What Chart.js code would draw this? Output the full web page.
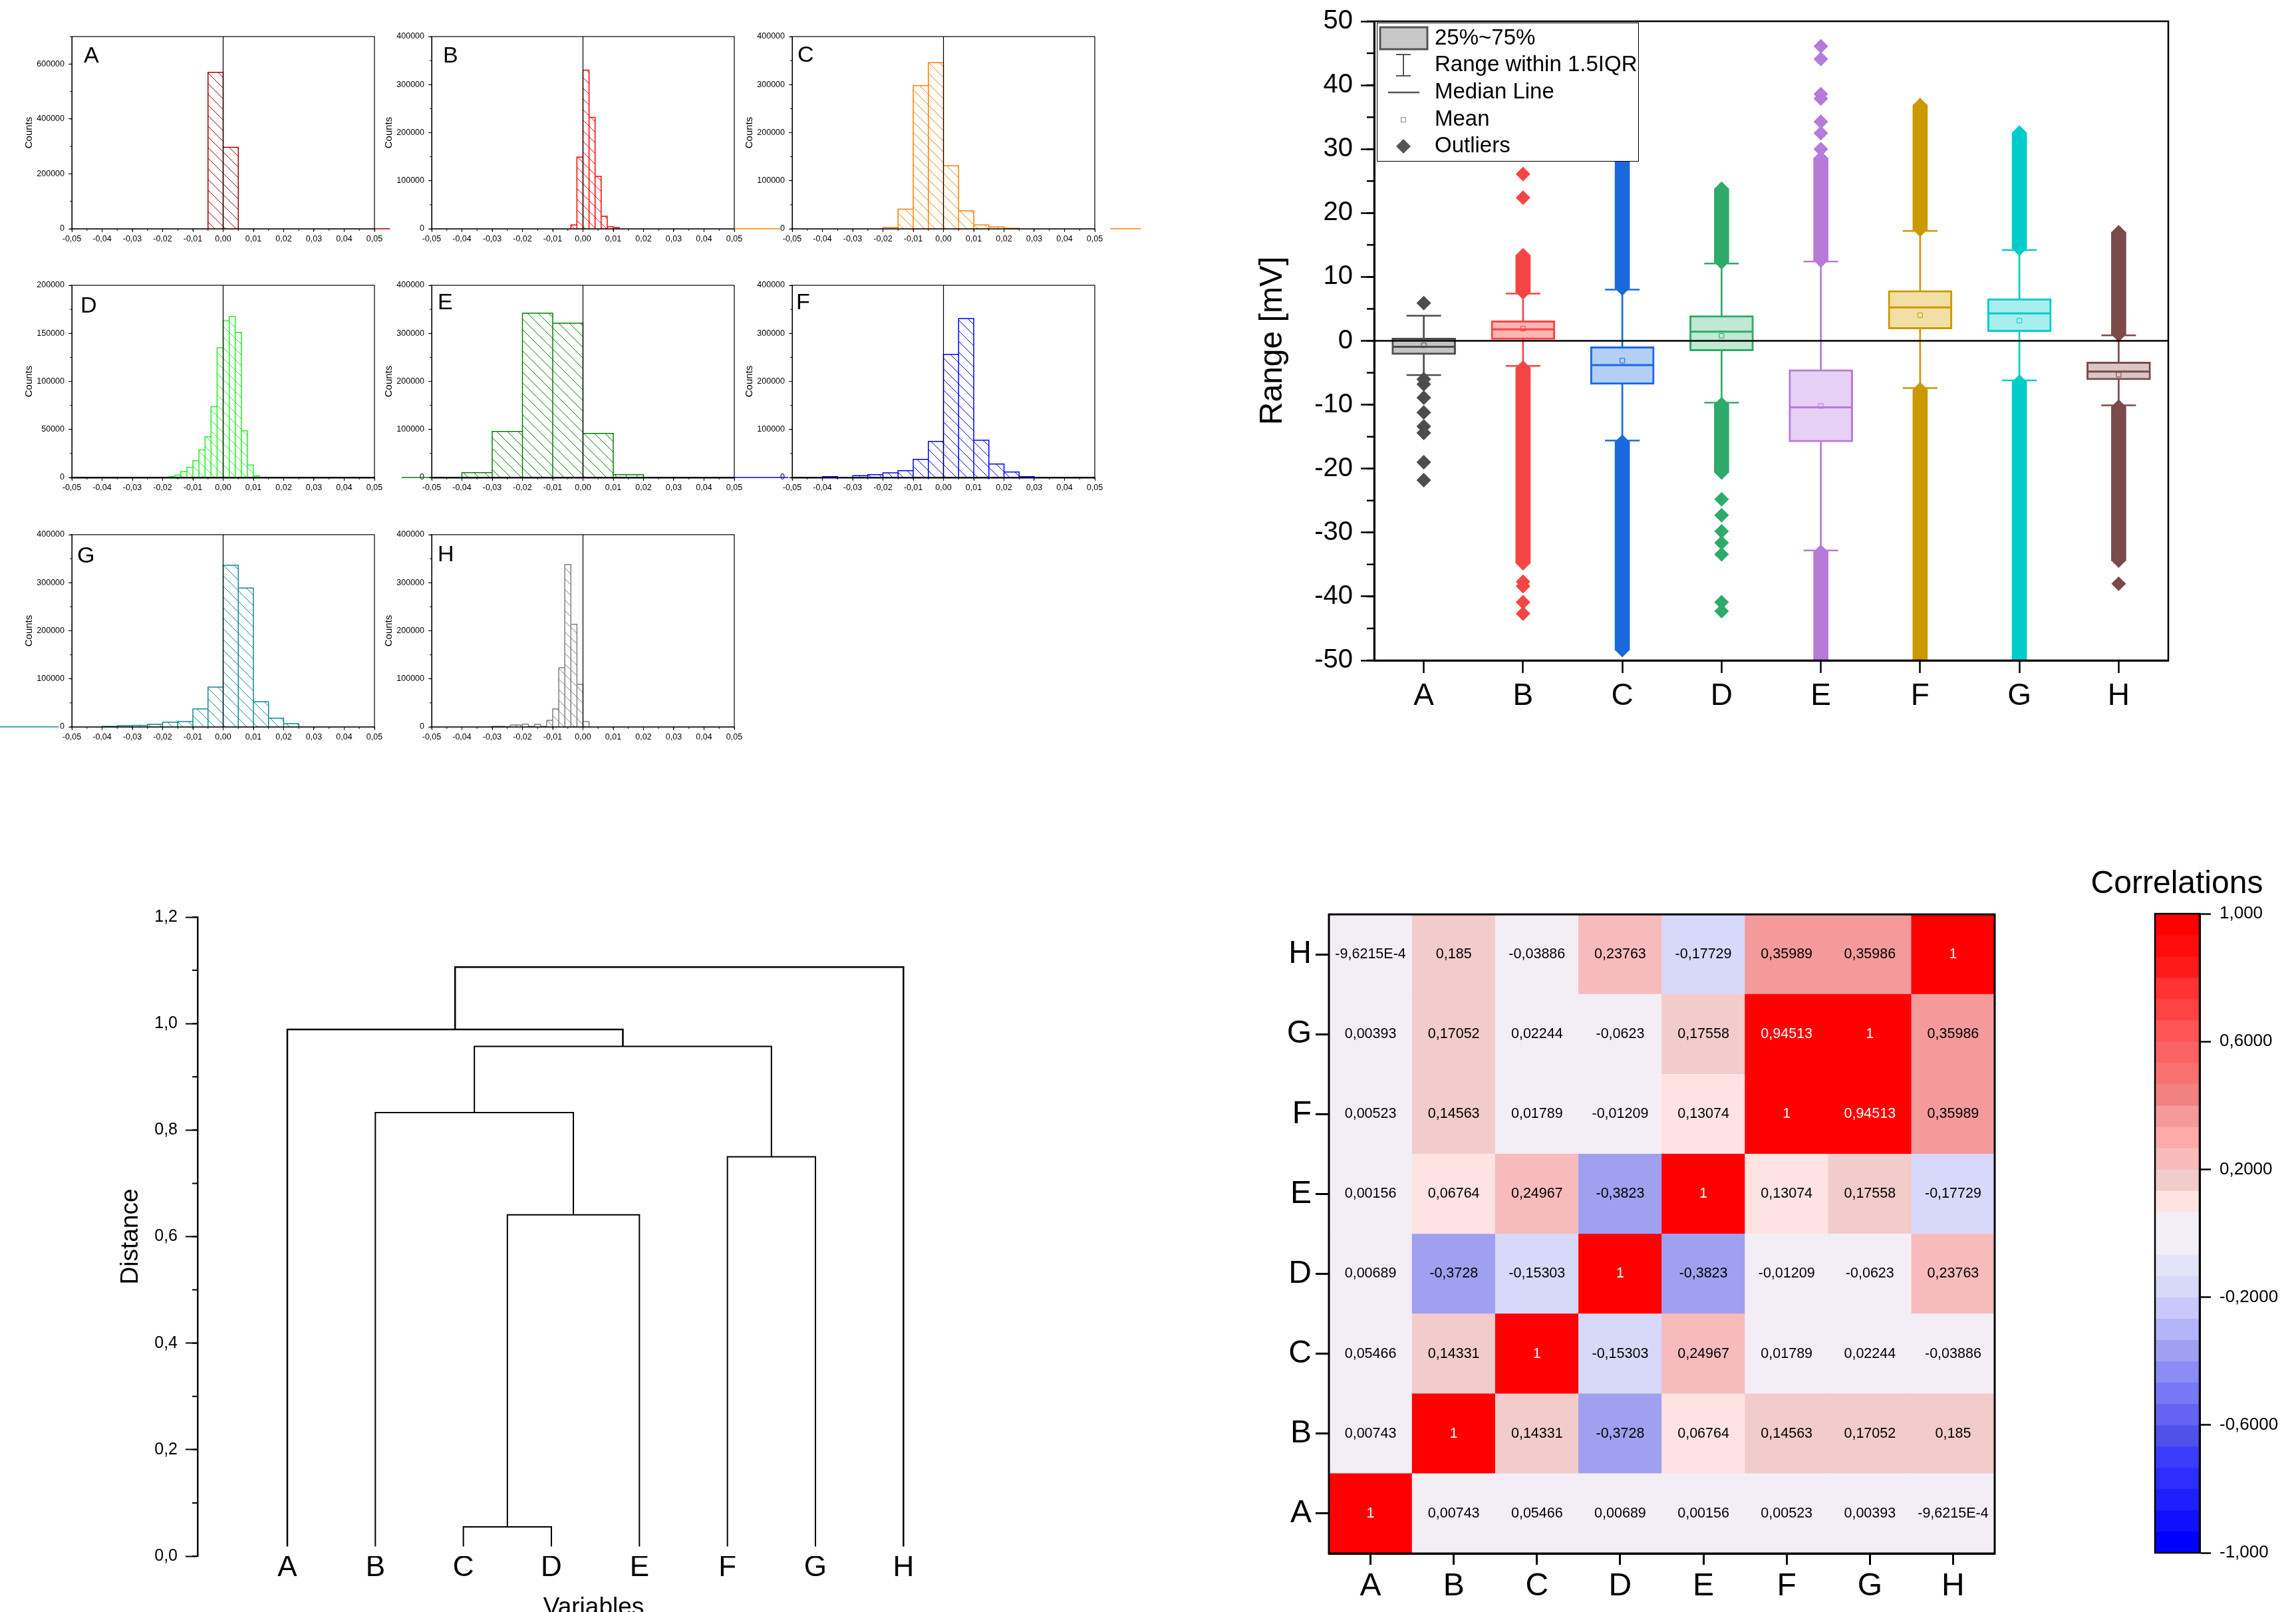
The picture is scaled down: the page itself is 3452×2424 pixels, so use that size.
<!DOCTYPE html>
<html lang="en">
<head>
<meta charset="utf-8">
<title>Signal statistics A-H</title>
<script src="https://cdn.jsdelivr.net/npm/chart.js@4.4.1/dist/chart.umd.min.js"></script>
<style>
  html, body { margin: 0; padding: 0; background: #fff; overflow: hidden; }
  body { position: relative; width: 3452px; height: 2424px; }
  canvas { position: absolute; }
</style>
</head>
<body>
<script>
// ---------------- data ----------------
const varNames = ['A', 'B', 'C', 'D', 'E', 'F', 'G', 'H'];

// histograms: [left edge of bin, counts]
const histA = [[-0.005, 570000], [0, 297000]];
const histB = [[-0.004, 8000], [-0.002, 149000], [0, 330000], [0.002, 232000], [0.004, 109000],
  [0.006, 26000], [0.008, 4000], [0.01, 2500]];
const histC = [[-0.02, 2300], [-0.015, 41000], [-0.01, 298000], [-0.005, 345600], [0, 131000],
  [0.005, 37400], [0.01, 7800], [0.015, 3700], [0.02, 900]];
const histD = [[-0.018, 900], [-0.016, 2500], [-0.014, 6000], [-0.012, 10600], [-0.01, 17500],
  [-0.008, 28800], [-0.006, 42400], [-0.004, 73700], [-0.002, 135000], [0, 163000],
  [0.002, 167500], [0.004, 151000], [0.006, 48600], [0.008, 12900], [0.01, 1800]];
const histE = [[-0.04, 10100], [-0.03, 95800], [-0.02, 341900], [-0.01, 321200], [0, 91700], [0.01, 6000]];
const histF = [[-0.04, 1800], [-0.03, 3700], [-0.025, 6000], [-0.02, 9700], [-0.015, 14300],
  [-0.01, 37800], [-0.005, 75100], [0, 256000], [0.005, 330900], [0.01, 77400], [0.015, 28100],
  [0.02, 11500], [0.025, 1800]];
const histG = [[-0.04, 900], [-0.035, 2300], [-0.03, 3200], [-0.025, 5100], [-0.02, 9700],
  [-0.015, 11000], [-0.01, 37400], [-0.005, 82700], [0, 336300], [0.005, 289100], [0.01, 52200],
  [0.015, 18000], [0.02, 6500]];
const histH = [[-0.03, 900], [-0.028, 900], [-0.024, 3700], [-0.022, 3700], [-0.02, 5500],
  [-0.018, 900], [-0.016, 5100], [-0.014, 900], [-0.012, 13400], [-0.01, 37400], [-0.008, 122900],
  [-0.006, 337600], [-0.004, 213400], [-0.002, 88700], [0, 11100]];
const histBinWidth = [0.005, 0.002, 0.005, 0.002, 0.01, 0.005, 0.005, 0.002];
// zero-count baseline pieces that run outside the frame: [from, to]
const histTails = [[[0.05, 0.0551]], [], [[-0.0691, -0.054], [0.0552, 0.0652]], [],
  [[-0.0599, -0.05]], [[-0.0691, -0.0513]], [[-0.0737, -0.0543]], []];
const histYMax = [700000, 400000, 400000, 200000, 400000, 400000, 400000, 400000];
const histYStep = [200000, 100000, 100000, 50000, 100000, 100000, 100000, 100000];
const histXTicks = [-0.05, -0.04, -0.03, -0.02, -0.01, 0, 0.01, 0.02, 0.03, 0.04, 0.05];

// box plot (mV)
const boxQ1 = [-2.15, 0.21, -6.8, -1.58, -15.8, 1.86, 1.43, -6.1];
const boxQ3 = [0.43, 3.15, -0.93, 3.94, -4.5, 7.88, 6.6, -3.3];
const boxMedian = [-0.93, 1.79, -3.8, 1.43, -10.4, 5.23, 4.3, -4.8];
const boxMean = [-0.7, 1.93, -3.1, 0.79, -10.2, 4.0, 3.15, -5.3];
const whiskerLow = [-5.37, -3.94, -15.6, -9.67, -32.8, -7.4, -6.2, -10.1];
const whiskerHigh = [3.94, 7.38, 8.0, 12.1, 12.4, 17.2, 14.2, 0.86];
// dense runs of outliers [from, to]
const outlierRunHigh = [null, [7.6, 13.4], [8.2, 33], [12.3, 23.8], [12.6, 28.6], [17.4, 36.9], [14.4, 32.6], [1.0, 17.0]];
const outlierRunLow = [null, [-34.8, -4.2], [-48.4, -15.8], [-20.6, -9.9], [-60, -33], [-60, -7.6], [-60, -6.4], [-34.4, -10.3]];
const outlierSingles = [
  [5.9, -6.0, -6.8, -8.9, -11.2, -13.4, -14.4, -19.0, -21.8],
  [22.4, 26.1, -37.7, -38.4, -40.9, -42.7],
  [],
  [-24.8, -27.3, -29.8, -31.6, -33.4, -40.9, -42.3],
  [30.0, 32.5, 34.3, 37.9, 38.6, 44.1, 46.1],
  [],
  [],
  [-38.0]
];
const boxYTicks = [-50, -40, -30, -20, -10, 0, 10, 20, 30, 40, 50];

// dendrogram: [left cluster, right cluster, distance]; clusters 0-7 are leaves, 8+ the merges in order
const dendroMerges = [[2, 3, 0.055], [8, 4, 0.641], [1, 9, 0.833], [5, 6, 0.750],
  [10, 11, 0.957], [0, 12, 0.989], [13, 7, 1.106]];
const dendroTicks = [0, 0.2, 0.4, 0.6, 0.8, 1.0, 1.2];

// correlation matrix, rows/cols A..H
const corrMatrix = [
  [1, 0.00743, 0.05466, 0.00689, 0.00156, 0.00523, 0.00393, -9.6215E-4],
  [0.00743, 1, 0.14331, -0.3728, 0.06764, 0.14563, 0.17052, 0.185],
  [0.05466, 0.14331, 1, -0.15303, 0.24967, 0.01789, 0.02244, -0.03886],
  [0.00689, -0.3728, -0.15303, 1, -0.3823, -0.01209, -0.0623, 0.23763],
  [0.00156, 0.06764, 0.24967, -0.3823, 1, 0.13074, 0.17558, -0.17729],
  [0.00523, 0.14563, 0.01789, -0.01209, 0.13074, 1, 0.94513, 0.35989],
  [0.00393, 0.17052, 0.02244, -0.0623, 0.17558, 0.94513, 1, 0.35986],
  [-9.6215E-4, 0.185, -0.03886, 0.23763, -0.17729, 0.35989, 0.35986, 1]
];
// colour levels from +1 (first) down to -1 (last)
const colorLevels = ['#ff0000', '#fe0c0c', '#ff1a1a', '#ff3333', '#ff4242', '#ff5555', '#fb6464', '#f87272',
  '#f28282', '#f49a9a', '#ffaaaa', '#f7bbbb', '#f2cbcb', '#ffe3e3', '#f3eef6', '#f3eef6', '#e4e4f8',
  '#d8d8fa', '#c8c8fa', '#b4b4f8', '#a0a0f0', '#8c8cf6', '#7878f6', '#6464f0', '#5050ea', '#3c3cfc',
  '#2d2dff', '#1e1eff', '#1010ff', '#0000ff'];
const colorbarTicks = [-1, -0.6, -0.2, 0.2, 0.6, 1];

// ---------------- helpers ----------------
const FAMILY = '"Liberation Sans", Arial, Helvetica, sans-serif';
Chart.defaults.font.family = FAMILY;
Chart.defaults.color = '#000';
Chart.defaults.animation = false;
Chart.defaults.events = [];
Chart.defaults.plugins.legend.display = false;
Chart.defaults.plugins.tooltip.enabled = false;

const comma = s => s.replace('.', ',');
const zeroPad = s => { s.paddingLeft = s.paddingRight = s.paddingTop = s.paddingBottom = 0; };
const asTicks = vals => vals.map(v => ({ value: v }));

function stepTicks(min, max, step) {
  const out = [];
  for (let k = 0; min + k * step <= max + 1e-9; k++) out.push(+(min + k * step).toFixed(6));
  return out;
}

function addCanvas(left, top, width, height) {
  const c = document.createElement('canvas');
  c.width = width; c.height = height;
  c.style.left = left + 'px'; c.style.top = top + 'px';
  c.style.width = width + 'px'; c.style.height = height + 'px';
  document.body.appendChild(c);
  return c;
}

function hatch(color) {
  const c = document.createElement('canvas');
  c.width = c.height = 16;
  const g = c.getContext('2d');
  g.strokeStyle = color;
  g.lineWidth = 1;
  g.beginPath();
  g.moveTo(-1, -1); g.lineTo(17, 17);
  g.stroke();
  return g.createPattern(c, 'repeat');
}

function fmtCorr(v) {
  if (v !== 0 && Math.abs(v) < 0.001) return comma(v.toExponential(4)).replace('e', 'E');
  return comma(String(v));
}

function corrColor(v) {
  const step = 2 / colorLevels.length;
  const k = Math.min(colorLevels.length - 1, Math.max(0, Math.floor((1 - v) / step)));
  return colorLevels[k];
}

// ---------------- plugins ----------------
const framePlugin = {
  id: 'frame',
  afterDraw(chart, args, opts) {
    if (!opts.width) return;
    const a = chart.chartArea, ctx = chart.ctx;
    ctx.save();
    ctx.strokeStyle = '#000';
    ctx.lineWidth = opts.width;
    ctx.strokeRect(a.left, a.top, a.right - a.left, a.bottom - a.top);
    ctx.restore();
  }
};

// horizontal reference line at y = 0
const zeroLinePlugin = {
  id: 'zeroLine',
  afterDatasetsDraw(chart, args, opts) {
    if (!opts.width) return;
    const a = chart.chartArea, ctx = chart.ctx;
    const y = chart.scales.y.getPixelForValue(0);
    ctx.save();
    ctx.strokeStyle = '#000';
    ctx.lineWidth = opts.width;
    ctx.beginPath(); ctx.moveTo(a.left, y); ctx.lineTo(a.right, y); ctx.stroke();
    ctx.restore();
  }
};

// short unlabeled ticks between the labeled ones
const minorTickPlugin = {
  id: 'minorTicks',
  afterDraw(chart, args, opts) {
    if (!opts.axes) return;
    const ctx = chart.ctx;
    ctx.save();
    ctx.strokeStyle = '#000';
    opts.axes.forEach(({ id, step, len, width }) => {
      const s = chart.scales[id];
      ctx.lineWidth = width;
      ctx.beginPath();
      stepTicks(s.min, s.max, step).forEach(v => {
        const p = s.getPixelForValue(v);
        if (s.isHorizontal()) { ctx.moveTo(p, s.top); ctx.lineTo(p, s.top + len); }
        else if (s.position === 'left') { ctx.moveTo(s.right - len, p); ctx.lineTo(s.right, p); }
        else { ctx.moveTo(s.left, p); ctx.lineTo(s.left + len, p); }
      });
      ctx.stroke();
    });
    ctx.restore();
  }
};

const tagPlugin = {
  id: 'tag',
  afterDraw(chart, args, opts) {
    if (!opts.text) return;
    const ctx = chart.ctx;
    ctx.save();
    ctx.font = opts.size + 'px ' + FAMILY;
    ctx.fillStyle = '#000';
    ctx.textAlign = opts.align || 'left';
    ctx.textBaseline = 'alphabetic';
    ctx.fillText(opts.text, chart.chartArea.left + opts.dx, chart.chartArea.top + opts.dy);
    ctx.restore();
  }
};

const boxLegendPlugin = {
  id: 'boxLegend',
  afterDraw(chart, args, opts) {
    if (!opts.show) return;
    const ctx = chart.ctx, a = chart.chartArea;
    const X = v => a.left + v, Y = v => a.top + v;
    ctx.save();
    ctx.fillStyle = '#fff';
    ctx.fillRect(X(4), Y(2), 393, 208);
    ctx.strokeStyle = '#000';
    ctx.lineWidth = 1;
    ctx.strokeRect(X(4) + 0.5, Y(2) + 0.5, 393, 208);
    const grey = '#555';
    // box sample
    ctx.fillStyle = '#c8c8c8';
    ctx.fillRect(X(9), Y(9), 71, 33);
    ctx.strokeStyle = grey; ctx.lineWidth = 3;
    ctx.strokeRect(X(9), Y(9), 71, 33);
    // whisker sample
    ctx.lineWidth = 2;
    ctx.beginPath();
    ctx.moveTo(X(44), Y(50)); ctx.lineTo(X(44), Y(82));
    ctx.moveTo(X(33), Y(50)); ctx.lineTo(X(55), Y(50));
    ctx.moveTo(X(33), Y(82)); ctx.lineTo(X(55), Y(82));
    ctx.stroke();
    // median sample
    ctx.lineWidth = 2.5;
    ctx.beginPath(); ctx.moveTo(X(21), Y(107)); ctx.lineTo(X(68), Y(107)); ctx.stroke();
    // mean sample
    ctx.lineWidth = 1;
    ctx.strokeStyle = '#888';
    ctx.strokeRect(X(40.5), Y(144.5), 7, 7);
    // outlier sample
    ctx.fillStyle = grey;
    ctx.beginPath();
    ctx.moveTo(X(33), Y(188)); ctx.lineTo(X(44), Y(177)); ctx.lineTo(X(55), Y(188)); ctx.lineTo(X(44), Y(199));
    ctx.closePath(); ctx.fill();
    // texts
    ctx.fillStyle = '#000';
    ctx.font = '33px ' + FAMILY;
    ctx.textBaseline = 'middle';
    const labels = ['25%~75%', 'Range within 1.5IQR', 'Median Line', 'Mean', 'Outliers'];
    const ys = [26, 66, 107, 148, 188];
    labels.forEach((t, i) => ctx.fillText(t, X(91), Y(ys[i])));
    ctx.restore();
  }
};

const cellTextPlugin = {
  id: 'cellText',
  afterDatasetsDraw(chart, args, opts) {
    if (!opts.values) return;
    const ctx = chart.ctx;
    ctx.save();
    ctx.font = opts.size + 'px ' + FAMILY;
    ctx.textAlign = 'center';
    ctx.textBaseline = 'middle';
    chart.data.datasets.forEach((ds, r) => {
      chart.getDatasetMeta(r).data.forEach((el, c) => {
        const v = opts.values[r][c];
        ctx.fillStyle = Math.abs(v) > 0.9 ? '#fff' : '#000';
        ctx.fillText(fmtCorr(v), el.x, (el.y + el.base) / 2);
      });
    });
    ctx.restore();
  }
};

Chart.register(framePlugin, zeroLinePlugin, minorTickPlugin, tagPlugin, boxLegendPlugin, cellTextPlugin);

// ---------------- histograms ----------------
const histData = [histA, histB, histC, histD, histE, histF, histG, histH];
const histColors = ['#a00000', '#ff0000', '#ff8000', '#22ee22', '#008000', '#0000ff', '#108a8a', '#808080'];
const histCols = [108, 649, 1191];
const histRows = [55, 429, 804];
const HIST_W = 455, HIST_H = 289;
const histTagPos = [[18, 39], [17, 39], [8, 38], [13, 41], [9, 36], [6, 36], [8, 42], [9, 40]];
const histBaseWidth = [1, 1, 1, 2.5, 2.5, 2.5, 1, 1];

function histPoints(bins, w) {
  const pts = [];
  bins.forEach(([x0, n]) => {
    pts.push({ x: x0, y: 0 }, { x: x0, y: n }, { x: x0 + w, y: n }, { x: x0 + w, y: 0 });
  });
  return pts;
}

histData.forEach((bins, i) => {
  const cl = histCols[i % 3], ct = histRows[Math.floor(i / 3)];
  const color = histColors[i], ymax = histYMax[i];
  const canvas = addCanvas(cl - 110, ct - 20, 110 + HIST_W + 75, 20 + HIST_H + 30);
  const datasets = [
    { data: [{ x: 0, y: 0 }, { x: 0, y: ymax }], borderColor: '#000', borderWidth: 1.2, fill: false, order: 0 },
    { data: histPoints(bins, histBinWidth[i]), borderColor: color, borderWidth: 1.5,
      backgroundColor: hatch(color), fill: 'origin', order: 1 }
  ];
  histTails[i].forEach(([a, b]) => {
    datasets.push({ data: [{ x: a, y: 0 }, { x: b, y: 0 }], borderColor: color, borderWidth: 1.5,
      fill: false, clip: false, order: 2 });
  });
  new Chart(canvas, {
    type: 'line',
    data: { datasets },
    options: {
      responsive: false,
      devicePixelRatio: 1,
      layout: { autoPadding: false, padding: { left: 30, top: 20, right: 75, bottom: 0 } },
      elements: { point: { radius: 0 }, line: { tension: 0 } },
      scales: {
        x: {
          type: 'linear', position: 'bottom', min: -0.05, max: 0.05,
          afterBuildTicks: s => { s.ticks = asTicks(histXTicks); },
          ticks: { callback: v => comma(v.toFixed(2)), font: { size: 12.5 }, padding: 3, autoSkip: false, maxRotation: 0 },
          grid: { drawOnChartArea: false, tickLength: 5, tickWidth: 1, tickColor: '#000' },
          border: { color: '#000', width: histBaseWidth[i] },
          afterFit: s => { s.height = 30; zeroPad(s); }
        },
        y: {
          type: 'linear', position: 'left', min: 0, max: ymax,
          afterBuildTicks: s => { s.ticks = asTicks(stepTicks(0, ymax, histYStep[i])); },
          ticks: { callback: v => String(v), font: { size: 12.5 }, padding: 6 },
          grid: { drawOnChartArea: false, tickLength: 5, tickWidth: 1, tickColor: '#000' },
          border: { color: '#000', width: 1 },
          title: { display: true, text: 'Counts', font: { size: 15 }, padding: { top: 7, bottom: 0 } },
          afterFit: s => { s.width = 80; zeroPad(s); }
        }
      },
      plugins: {
        frame: { width: 1.2 },
        minorTicks: { axes: [{ id: 'x', step: 0.005, len: 3, width: 1 }, { id: 'y', step: histYStep[i] / 2, len: 3, width: 1 }] },
        tag: { text: varNames[i], dx: histTagPos[i][0], dy: histTagPos[i][1], size: 34 }
      }
    }
  });
});

// ---------------- box plot ----------------
const boxLine = ['#4d4d4d', '#f54545', '#1a68dd', '#2eab6a', '#b67ad9', '#cc9900', '#00cccc', '#7b4a4a'];
const boxFill = ['#c4c4c4', '#fab5b5', '#b3cff6', '#c0e8d2', '#e7d0f5', '#f1dfa5', '#a8eeee', '#d9c6c6'];

const outPts = [], outCols = [], capPts = [], capCols = [];
varNames.forEach((c, i) => {
  const vals = outlierSingles[i].slice();
  [outlierRunHigh[i], outlierRunLow[i]].forEach(r => { if (r) vals.push(r[0], r[1]); });
  vals.forEach(v => { outPts.push({ x: c, y: v }); outCols.push(boxLine[i]); });
  capPts.push({ x: c, y: whiskerHigh[i] }, { x: c, y: whiskerLow[i] });
  capCols.push(boxLine[i], boxLine[i]);
});
const catPts = vals => vals.map((v, i) => ({ x: varNames[i], y: v }));

new Chart(addCanvas(1881, 12, 1409, 1061), {
  type: 'bar',
  data: {
    labels: varNames,
    datasets: [
      { type: 'bar', data: varNames.map((_, i) => [whiskerLow[i], whiskerHigh[i]]), backgroundColor: boxLine,
        barThickness: 2, grouped: false, order: 9 },
      { type: 'bar', data: outlierRunHigh, backgroundColor: boxLine, barThickness: 22, grouped: false, order: 8 },
      { type: 'bar', data: outlierRunLow, backgroundColor: boxLine, barThickness: 22, grouped: false, order: 8 },
      { type: 'line', data: outPts, showLine: false, pointStyle: 'rectRot', pointRadius: 11,
        pointBackgroundColor: outCols, pointBorderWidth: 0, order: 7 },
      { type: 'bar', data: varNames.map((_, i) => [boxQ1[i], boxQ3[i]]), backgroundColor: boxFill,
        borderColor: boxLine, borderWidth: 3, borderSkipped: false, barThickness: 96, grouped: false, order: 5 },
      { type: 'line', data: capPts, showLine: false, pointStyle: 'line', pointRadius: 26,
        pointBorderColor: capCols, pointBorderWidth: 2.5, order: 4 },
      { type: 'line', data: catPts(boxMedian), showLine: false, pointStyle: 'line', pointRadius: 47,
        pointBorderColor: boxLine, pointBorderWidth: 3, order: 3 },
      { type: 'line', data: catPts(boxMean), showLine: false, pointStyle: 'rect', pointRadius: 5,
        pointBackgroundColor: 'rgba(0,0,0,0)', pointBorderColor: boxLine, pointBorderWidth: 1, order: 2 }
    ]
  },
  options: {
    responsive: false,
    devicePixelRatio: 1,
    layout: { autoPadding: false, padding: { left: 0, top: 20, right: 30, bottom: 0 } },
    scales: {
      x: {
        type: 'category', offset: true,
        grid: { offset: false, drawOnChartArea: false, tickLength: 19, tickWidth: 2.5, tickColor: '#000' },
        border: { color: '#000', width: 3 },
        ticks: { font: { size: 46 }, padding: 8 },
        afterFit: s => { s.height = 80; zeroPad(s); }
      },
      y: {
        type: 'linear', position: 'left', min: -50, max: 50,
        afterBuildTicks: s => { s.ticks = asTicks(boxYTicks); },
        ticks: { callback: v => String(v), font: { size: 40 }, padding: 12 },
        grid: { drawOnChartArea: false, tickWidth: 2.5, tickLength: 20, tickColor: '#000' },
        border: { color: '#000', width: 3 },
        title: { display: true, text: 'Range [mV]', font: { size: 48 }, padding: { top: 4, bottom: 0 } },
        afterFit: s => { s.width = 185; zeroPad(s); }
      }
    },
    plugins: {
      frame: { width: 2.5 },
      zeroLine: { width: 2.5 },
      minorTicks: { axes: [{ id: 'y', step: 5, len: 11, width: 2.5 }] },
      boxLegend: { show: true }
    }
  }
});

// ---------------- dendrogram ----------------
const LEAF_BASE = 0.018; // leaf stems stop a little above the axis, like the original
const nodeX = varNames.map((_, i) => i);
const nodeH = varNames.map(() => LEAF_BASE);
dendroMerges.forEach(([l, r, h]) => { nodeX.push((nodeX[l] + nodeX[r]) / 2); nodeH.push(h); });

new Chart(addCanvas(167, 1359, 1331, 1081), {
  type: 'line',
  data: {
    datasets: dendroMerges.map(([l, r, h]) => ({
      data: [{ x: nodeX[l], y: nodeH[l] }, { x: nodeX[l], y: h }, { x: nodeX[r], y: h }, { x: nodeX[r], y: nodeH[r] }],
      borderColor: '#000', borderWidth: h > 0.98 ? 2.5 : 2, fill: false
    }))
  },
  options: {
    responsive: false,
    devicePixelRatio: 1,
    layout: { autoPadding: false, padding: { left: 0, top: 20, right: 10, bottom: 0 } },
    elements: { point: { radius: 0 }, line: { tension: 0 } },
    scales: {
      x: {
        type: 'linear', min: -1.02, max: 7.98,
        afterBuildTicks: s => { s.ticks = asTicks(varNames.map((_, i) => i)); },
        ticks: { callback: v => varNames[v], font: { size: 44, lineHeight: 1 }, padding: -4, autoSkip: false, maxRotation: 0 },
        grid: { display: false, drawTicks: false },
        border: { display: false },
        title: { display: true, text: 'Variables', font: { size: 37 }, padding: { top: 0, bottom: 0 } },
        afterFit: s => { s.height = 100; zeroPad(s); }
      },
      y: {
        type: 'linear', position: 'left', min: 0, max: 1.2,
        afterBuildTicks: s => { s.ticks = asTicks(dendroTicks); },
        ticks: { callback: v => comma(v.toFixed(1)), font: { size: 25 }, padding: 12 },
        grid: { drawOnChartArea: false, tickLength: 18, tickWidth: 2, tickColor: '#000' },
        border: { color: '#000', width: 2.5 },
        title: { display: true, text: 'Distance', font: { size: 37 }, padding: { top: 8, bottom: 0 } },
        afterFit: s => { s.width = 130; zeroPad(s); }
      }
    },
    plugins: { minorTicks: { axes: [{ id: 'y', step: 0.1, len: 8, width: 2 }] } }
  }
});

// ---------------- correlation heat map ----------------
new Chart(addCanvas(1878, 1360, 1136, 1051), {
  type: 'bar',
  data: {
    labels: varNames,
    datasets: corrMatrix.map((row, r) => ({
      data: row.map(() => [r, r + 1]),
      backgroundColor: row.map(corrColor),
      barPercentage: 1, categoryPercentage: 1, grouped: false, borderWidth: 0
    }))
  },
  options: {
    responsive: false,
    devicePixelRatio: 1,
    layout: { autoPadding: false, padding: { left: 0, top: 15, right: 15, bottom: 0 } },
    scales: {
      x: {
        type: 'category', offset: true,
        grid: { offset: false, drawOnChartArea: false, tickLength: 17, tickWidth: 3, tickColor: '#000' },
        border: { color: '#000', width: 3 },
        ticks: { font: { size: 48, lineHeight: 1 }, padding: 9 },
        afterFit: s => { s.height = 75; zeroPad(s); }
      },
      y: {
        type: 'linear', min: 0, max: 8,
        afterBuildTicks: s => { s.ticks = asTicks(varNames.map((_, i) => i + 0.5)); },
        ticks: { callback: v => varNames[Math.floor(v)], font: { size: 48, lineHeight: 1 }, padding: 6 },
        grid: { drawOnChartArea: false, tickLength: 20, tickWidth: 3, tickColor: '#000' },
        border: { color: '#000', width: 3 },
        afterFit: s => { s.width = 120; zeroPad(s); }
      }
    },
    plugins: { frame: { width: 3 }, cellText: { values: corrMatrix, size: 21.5 } }
  }
});

// ---------------- colour scale ----------------
const levelStep = 2 / colorLevels.length;
new Chart(addCanvas(3093, 1280, 360, 1085), {
  type: 'bar',
  data: {
    labels: ['scale'],
    datasets: colorLevels.map((col, k) => ({
      data: [[1 - (k + 1) * levelStep, 1 - k * levelStep]],
      backgroundColor: col, barPercentage: 1, categoryPercentage: 1, grouped: false, borderWidth: 0
    }))
  },
  options: {
    responsive: false,
    devicePixelRatio: 1,
    layout: { autoPadding: false, padding: { left: 147, top: 94, right: 0, bottom: 30 } },
    scales: {
      x: { display: false },
      y: {
        type: 'linear', position: 'right', min: -1, max: 1,
        afterBuildTicks: s => { s.ticks = asTicks(colorbarTicks); },
        ticks: {
          callback: v => (Math.abs(v) === 1 ? comma(v.toFixed(3)) : comma(v.toFixed(4))),
          font: { size: 26 }, padding: 13
        },
        grid: { drawOnChartArea: false, tickLength: 17, tickWidth: 2.5, tickColor: '#000' },
        border: { color: '#000', width: 3 },
        afterFit: s => { s.width = 146; zeroPad(s); }
      }
    },
    plugins: {
      frame: { width: 2.5 },
      tag: { text: 'Correlations', dx: 33, dy: -31, size: 48, align: 'center' }
    }
  }
});
</script>
</body>
</html>
